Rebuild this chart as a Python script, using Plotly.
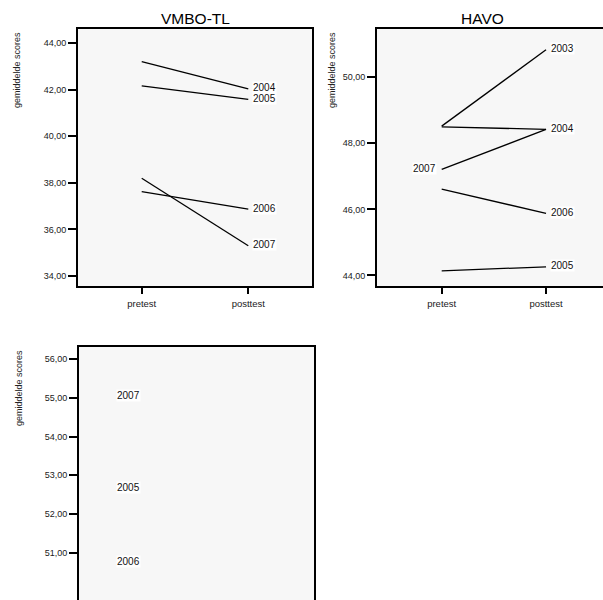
import plotly.graph_objects as go

# measurement moments on the x axis
categories = ["pretest", "posttest"]

# VMBO-TL cohorts: mean scores
vmbo_years = ["2004", "2005", "2006", "2007"]
vmbo_pre = [43.21, 42.17, 37.62, 38.20]
vmbo_post = [42.04, 41.59, 36.87, 35.30]

# HAVO cohorts: mean scores (2007 labelled at the pretest end)
havo_years = ["2003", "2004", "2005", "2006", "2007"]
havo_pre = [48.52, 48.50, 44.14, 46.61, 47.21]
havo_post = [50.83, 48.42, 44.26, 45.88, 48.42]
havo_label_at = ["posttest", "posttest", "posttest", "posttest", "pretest"]

# third panel: only pretest means
vwo_years = ["2005", "2006", "2007"]
vwo_pre = [52.69, 50.78, 55.05]

W, H = 603, 600
FONT = "Arial, Liberation Sans, sans-serif"
BG = "#f7f7f7"


def px_x(v):
    return v / W


def px_y(v):
    return 1 - v / H


fig = go.Figure()

panels = [
    ("x", "y", vmbo_years, vmbo_pre, vmbo_post, ["posttest"] * 4),
    ("x2", "y2", havo_years, havo_pre, havo_post, havo_label_at),
]
annotations = []
for xa, ya, years, pre, post, where in panels:
    for yr, a, b, side in zip(years, pre, post, where):
        fig.add_trace(go.Scatter(
            x=categories, y=[a, b], mode="lines",
            line=dict(color="black", width=1.3),
            xaxis=xa, yaxis=ya, showlegend=False, hoverinfo="skip"))
        val = b if side == "posttest" else a
        annotations.append(dict(
            x=side, y=val, xref=xa, yref=ya, text=yr, showarrow=False,
            xanchor="left" if side == "posttest" else "right",
            xshift=4 if side == "posttest" else -5, yshift=1,
            bgcolor="white", borderpad=0,
            font=dict(family=FONT, size=10, color="#111")))

for yr, a in zip(vwo_years, vwo_pre):
    fig.add_trace(go.Scatter(
        x=categories[:1], y=[a], mode="lines",
        line=dict(color="black", width=1.3),
        xaxis="x3", yaxis="y3", showlegend=False, hoverinfo="skip"))
    annotations.append(dict(
        x="pretest", y=a, xref="x3", yref="y3", text=yr, showarrow=False,
        xanchor="right", xshift=-2, bgcolor="white", borderpad=0,
        font=dict(family=FONT, size=10, color="#111")))

# panel titles and axis titles
for txt, cx in [("VMBO-TL", 195), ("HAVO", 482)]:
    annotations.append(dict(
        x=px_x(cx), y=px_y(19), xref="paper", yref="paper", text=txt,
        showarrow=False, xanchor="center", yanchor="middle",
        font=dict(family=FONT, size=15.5, color="black")))
for cx, cy in [(17, 70), (332, 70), (19, 388)]:
    annotations.append(dict(
        x=px_x(cx), y=px_y(cy), xref="paper", yref="paper",
        text="gemiddelde scores", textangle=-90, showarrow=False,
        xanchor="center", yanchor="middle",
        font=dict(family=FONT, size=9, color="#222")))

common_x = dict(
    type="category", categoryorder="array", categoryarray=categories,
    showline=True, linecolor="black", linewidth=2, mirror=True,
    ticks="outside", ticklen=6, tickwidth=2, tickcolor="black",
    ticklabelstandoff=2,
    showgrid=False, zeroline=False, automargin=False,
    tickfont=dict(family=FONT, size=9.5, color="#1a1a1a"))
common_y = dict(
    showline=True, linecolor="black", linewidth=2, mirror=True,
    ticks="outside", ticklen=8, tickwidth=2, tickcolor="black",
    showgrid=False, zeroline=False, tickformat=".2f", automargin=False,
    tickfont=dict(family=FONT, size=9, color="#1a1a1a"))

top_dom = [px_y(286), px_y(29)]

fig.update_layout(
    template="none",
    width=W, height=H, margin=dict(l=0, r=0, t=0, b=0, autoexpand=False),
    paper_bgcolor="white", plot_bgcolor=BG, separators=",.",
    showlegend=False,
    xaxis=dict(common_x, domain=[px_x(78), px_x(312)], range=[-0.598, 1.598],
               anchor="y"),
    yaxis=dict(common_y, domain=top_dom, range=[33.57, 44.61],
               tickvals=[34, 36, 38, 40, 42, 44], anchor="x"),
    xaxis2=dict(common_x, domain=[px_x(377), 1], range=[-0.620, 1.546],
                anchor="y2"),
    yaxis2=dict(common_y, domain=top_dom, range=[43.68, 51.46],
                tickvals=[44, 46, 48, 50], anchor="x2"),
    # the lower panel's category axis runs past the bottom of the page
    xaxis3=dict(common_x, domain=[px_x(79), px_x(314)], range=[-0.6, 1.6],
                anchor="y3", ticks="", showticklabels=False),
    yaxis3=dict(common_y, domain=[0, px_y(346.7)], range=[49.78, 56.32],
                tickvals=[51, 52, 53, 54, 55, 56], anchor="x3"),
    annotations=annotations,
)

fig.write_html("out.html")
